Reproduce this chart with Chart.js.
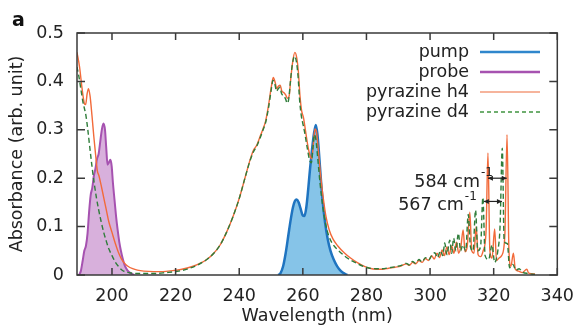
<!DOCTYPE html>
<html>
<head>
<meta charset="utf-8">
<script src="https://cdn.jsdelivr.net/npm/chart.js@4.4.1/dist/chart.umd.min.js"></script>
<style>
  html, body { margin: 0; padding: 0; background: #fff; }
  #wrap { width: 585px; height: 327px; }
</style>
</head>
<body>
<div id="wrap"><canvas id="c"></canvas></div>
<script>
// ---- datos ----
const seriesNames = ['pump', 'probe', 'pyrazine h4', 'pyrazine d4'];
const xTickValues = [200, 220, 240, 260, 280, 300, 320, 340];
const yTickValues = [0, 0.1, 0.2, 0.3, 0.4, 0.5];

const pumpWl  = [252.3,253,253.8,254.6,255.4,256.2,256.9,257.5,258.1,258.7,259.3,259.9,260.5,261.1,261.7,262.3,262.9,263.5,264.1,264.6,265.1,265.7,266.3,267,267.8,268.7,269.7,270.8,272,273.3,274];
const pumpAbs = [0,.004,.018,.045,.08,.115,.14,.153,.156,.15,.137,.124,.122,.14,.178,.222,.26,.292,.31,.29,.25,.195,.148,.108,.075,.05,.032,.018,.008,.002,0];

const probeWl  = [189.6,190.2,190.8,191.3,191.8,192.3,192.8,193.3,193.8,194.3,194.8,195.3,195.8,196.3,196.8,197.3,197.8,198.2,198.6,199,199.5,199.9,200.3,200.8,201.3,201.8,202.3,202.8,203.4,204,204.8,205.8,207];
const probeAbs = [0,.008,.03,.05,.06,.085,.13,.165,.18,.205,.22,.24,.25,.275,.3,.313,.3,.262,.228,.232,.238,.225,.19,.155,.12,.092,.068,.05,.033,.02,.01,.004,0];

const h4Wl = [189,189.8,190.6,191.3,191.7,192.2,192.6,193.1,193.7,194.3,194.9,195.4,195.9,196.6,197.4,198.2,199,200,201,202,203,204,205,206.5,208,210,213,216,219,222,225,228,230,232,234,236,238,240,242,243.5,244.5,245.5,246.5,247.5,248.3,249.2,250,250.7,251.3,251.8,252.3,252.9,253.4,254,254.6,255.2,255.7,256.2,256.8,257.5,258.1,258.6,259.1,259.6,260.2,260.8,261.5,262.2,262.8,263.3,263.8,264.3,264.9,265.6,266.4,267.3,268.3,269.5,271,273,275,277,279,281,283,285,287,289,291,292.5,293.5,294.5,295.5,296.5,297.5,298.5,299.5,300.5,301.3,302.2,303,303.8,304.5,305.3,306,306.8,307.5,308.3,309,309.7,310.4,311,311.7,312.5,313.1,313.8,314.5,315.1,315.9,316.7,317.6,318.2,318.8,319.5,320.3,320.9,321.7,322.5,323.5,324.2,324.8,325.4,326.2,326.8,327.8,329,330.4,331,333];
const h4Abs = [.46,.43,.385,.355,.352,.375,.385,.37,.33,.285,.245,.215,.205,.185,.16,.135,.11,.088,.066,.047,.033,.024,.018,.013,.01,.008,.007,.007,.009,.012,.017,.025,.033,.045,.062,.088,.12,.158,.205,.24,.258,.268,.285,.302,.318,.35,.385,.408,.398,.385,.39,.392,.38,.377,.372,.365,.37,.405,.44,.46,.448,.42,.37,.34,.325,.3,.27,.248,.24,.27,.302,.295,.255,.205,.16,.12,.093,.074,.06,.046,.035,.026,.019,.014,.012,.012,.014,.016,.019,.023,.02,.026,.023,.03,.026,.034,.03,.04,.033,.045,.036,.052,.04,.058,.042,.06,.045,.068,.045,.06,.093,.048,.06,.13,.05,.045,.1,.042,.038,.05,.09,.252,.05,.035,.095,.03,.035,.04,.08,.29,.05,.018,.045,.012,.008,.005,.012,.004,.002];

const d4Wl = [189,189.6,190.2,190.8,191.3,191.8,192.4,193,193.7,194.4,195.1,195.8,196.6,197.4,198.2,199,200,201,202,203,204,206,209,213,217,221,224,227,230,232,234,236,238,240,242,243.5,244.5,245.5,246.5,247.5,248.3,249.2,250,250.6,251.2,251.7,252.3,252.8,253.3,253.9,254.5,255.1,255.6,256.1,256.7,257.4,258,258.5,259,259.5,260.1,260.7,261.4,262.1,262.7,263.2,263.6,264.1,264.7,265.4,266.2,267.1,268.1,269.3,271,273,275,277,279,281,283,285,287,289,291,292.5,293.5,294.5,295.5,296.5,297.5,298.5,299.5,300.5,301.5,302.3,303.3,304,304.6,305.3,306.2,306.8,307.4,308.1,308.9,309.6,310.3,311.2,312,312.7,313.5,314.3,315,315.9,316.6,317.3,318.4,319.5,320.3,321.3,322,322.7,323.3,324.3,325,326,327,328,329,331,333];
const d4Abs = [.43,.41,.385,.36,.345,.33,.3,.265,.225,.19,.16,.135,.11,.088,.07,.054,.04,.027,.018,.011,.007,.004,.003,.003,.005,.008,.013,.021,.033,.045,.062,.088,.12,.158,.205,.238,.255,.266,.282,.3,.315,.345,.38,.402,.395,.38,.385,.388,.375,.37,.365,.355,.365,.4,.435,.452,.44,.41,.36,.33,.31,.29,.262,.238,.232,.265,.29,.28,.24,.19,.145,.107,.082,.065,.052,.04,.031,.024,.018,.014,.013,.013,.015,.017,.02,.024,.021,.028,.024,.032,.027,.036,.031,.04,.046,.036,.05,.04,.066,.042,.072,.045,.076,.05,.086,.05,.062,.05,.125,.058,.05,.134,.05,.06,.16,.04,.032,.062,.026,.05,.1,.262,.07,.065,.015,.022,.01,.013,.006,.003,.001];

const pts = (xs, ys) => xs.map((x, i) => ({ x, y: ys[i] }));
const FONT = "'DejaVu Sans', sans-serif";

// marco, ticks hacia dentro, leyenda y anotaciones
const extras = {
  id: 'extras',
  afterDraw(chart) {
    const { ctx, chartArea: a, scales: { x, y } } = chart;
    ctx.save();
    ctx.strokeStyle = '#3a3a3a';
    ctx.lineWidth = 1.5;
    ctx.strokeRect(a.left, a.top, a.right - a.left, a.bottom - a.top);
    ctx.beginPath();
    xTickValues.forEach(v => {
      const px = x.getPixelForValue(v);
      ctx.moveTo(px, a.bottom); ctx.lineTo(px, a.bottom - 7);
      ctx.moveTo(px, a.top); ctx.lineTo(px, a.top + 7);
    });
    yTickValues.forEach(v => {
      const py = y.getPixelForValue(v);
      ctx.moveTo(a.left, py); ctx.lineTo(a.left + 8, py);
      ctx.moveTo(a.right, py); ctx.lineTo(a.right - 8, py);
    });
    ctx.stroke();

    // leyenda
    const legCols = ['#2f86cc', '#a652b0', '#f6b49c', '#6fae6f'];
    ctx.font = '17.5px ' + FONT;
    ctx.textAlign = 'right';
    ctx.textBaseline = 'middle';
    seriesNames.forEach((n, i) => {
      const ly = 52 + i * 20;
      ctx.fillStyle = '#222';
      ctx.fillText(n, 469, ly);
      ctx.beginPath();
      ctx.strokeStyle = legCols[i];
      ctx.lineWidth = i < 2 ? 2.5 : 1.8;
      ctx.setLineDash(i === 3 ? [4, 3] : []);
      ctx.moveTo(480, ly); ctx.lineTo(540, ly);
      ctx.stroke();
    });
    ctx.setLineDash([]);

    // anotaciones cm-1
    const ann = [
      { t: '584 cm', x0: 318.2, x1: 324.1, yv: 0.2, gap: 7 },
      { t: '567 cm', x0: 316.9, x1: 322.6, yv: 0.152, gap: 19 }
    ];
    ann.forEach(o => {
      const p0 = x.getPixelForValue(o.x0), p1 = x.getPixelForValue(o.x1);
      const py = y.getPixelForValue(o.yv);
      ctx.strokeStyle = '#222'; ctx.fillStyle = '#222'; ctx.lineWidth = 1.2;
      ctx.beginPath(); ctx.moveTo(p0, py); ctx.lineTo(p1, py); ctx.stroke();
      [[p0, 1], [p1, -1]].forEach(([px, d]) => {
        ctx.beginPath();
        ctx.moveTo(px, py); ctx.lineTo(px + d * 5, py - 2.5); ctx.lineTo(px + d * 5, py + 2.5);
        ctx.closePath(); ctx.fill();
      });
      const tr = p0 - o.gap;
      ctx.font = '17.5px ' + FONT;
      ctx.textAlign = 'right'; ctx.textBaseline = 'middle';
      ctx.fillText(o.t, tr - 1, py + 4);
      ctx.font = '12px ' + FONT;
      ctx.textAlign = 'left';
      ctx.fillText('-1', tr, py - 5);
    });

    ctx.font = 'bold 19px ' + FONT;
    ctx.textAlign = 'left'; ctx.textBaseline = 'middle';
    ctx.fillStyle = '#111';
    ctx.fillText('a', 12, 21);
    ctx.restore();
  }
};

new Chart(document.getElementById('c'), {
  type: 'line',
  data: {
    datasets: [
      { label: seriesNames[3], data: pts(d4Wl, d4Abs), borderColor: '#2f7d3a', borderWidth: 1.4, borderDash: [5, 3], fill: false },
      { label: seriesNames[2], data: pts(h4Wl, h4Abs), borderColor: '#f26a3a', borderWidth: 1.4, fill: false },
      { label: seriesNames[0], data: pts(pumpWl, pumpAbs), borderColor: '#1f74c0', borderWidth: 2.5, backgroundColor: '#86c4e8', fill: 'origin' },
      { label: seriesNames[1], data: pts(probeWl, probeAbs), borderColor: '#a652b0', borderWidth: 2, backgroundColor: '#d8b0dc', fill: 'origin' }
    ]
  },
  options: {
    responsive: true,
    maintainAspectRatio: false,
    animation: false,
    devicePixelRatio: 1,
    layout: { padding: { top: 33, right: 23, left: 0, bottom: 0 } },
    elements: { point: { radius: 0 }, line: { cubicInterpolationMode: 'monotone' } },
    plugins: { legend: { display: false }, tooltip: { enabled: false } },
    scales: {
      x: {
        type: 'linear', min: 189, max: 340,
        grid: { display: false, drawTicks: false },
        border: { display: false },
        afterBuildTicks: s => { s.ticks = xTickValues.map(v => ({ value: v })); },
        afterFit: s => { s.height = 52; },
        ticks: { color: '#222', padding: 11, maxRotation: 0, font: { family: FONT, size: 17.5 } },
        title: { display: true, text: 'Wavelength (nm)', color: '#222', padding: { top: 0, bottom: 0 }, font: { family: FONT, size: 17.5 } }
      },
      y: {
        min: 0, max: 0.5,
        grid: { display: false, drawTicks: false },
        border: { display: false },
        afterBuildTicks: s => { s.ticks = yTickValues.map(v => ({ value: v })); },
        afterFit: s => { s.width = 77; },
        ticks: { color: '#222', padding: 13, font: { family: FONT, size: 17.5 }, callback: v => v === 0 ? '0' : v.toFixed(1) },
        title: { display: true, text: 'Absorbance (arb. unit)', color: '#222', padding: { top: 7, bottom: 0 }, font: { family: FONT, size: 17.5 } }
      }
    }
  },
  plugins: [extras]
});
</script>
</body>
</html>
